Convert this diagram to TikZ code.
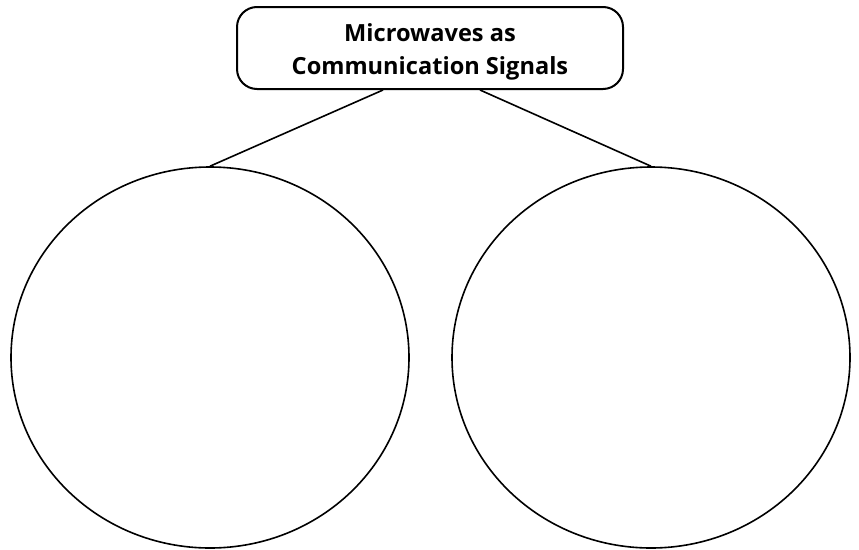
\documentclass[tikz,border=0pt]{standalone}
\usepackage{fontspec}
\setmainfont{Open Sans}
\usetikzlibrary{shapes.geometric,positioning}
\begin{document}
\begin{tikzpicture}[x=1pt,y=-1pt,
  titlebox/.style={draw, line width=2pt, rounded corners=20pt, minimum width=386pt, minimum height=82pt},
  titletext/.style={align=center, yshift=-4pt, font=\bfseries\fontsize{23.6}{33.5}\selectfont},
  bubble/.style={draw, ellipse, line width=1.6pt, minimum width=398pt, minimum height=381pt, inner sep=0pt},
  link/.style={line width=1.6pt}]
\useasboundingbox (0,0) rectangle (859,549);
\node[titlebox, label={[titletext]center:Microwaves as\\Communication Signals}] (title) at (430,48) {};
\node[bubble] (left) at (210,357.5) {};
\node[bubble] (right) at (651,357.5) {};
\draw[link] ([xshift=-47pt]title.south) -- (left.north);
\draw[link] ([xshift=50pt]title.south) -- (right.north);
\end{tikzpicture}
\end{document}
